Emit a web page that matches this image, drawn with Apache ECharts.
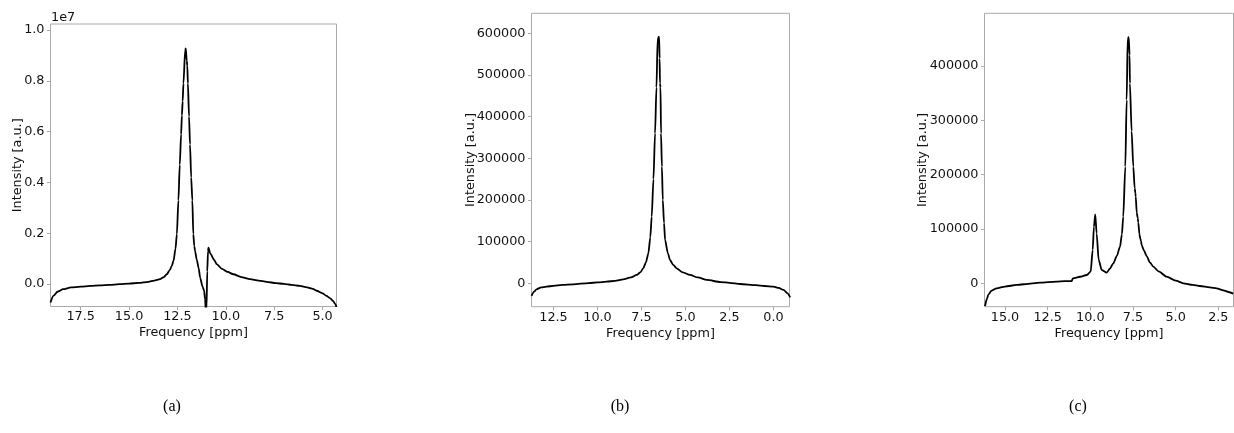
<!DOCTYPE html>
<html>
<head>
<meta charset="utf-8">
<script src="https://cdn.jsdelivr.net/npm/echarts@6/dist/echarts.min.js"></script>
<style>
html,body{margin:0;padding:0;background:#fff;}
#chart{width:1234px;height:433px;}
</style>
</head>
<body>
<div id="chart"></div>
<script>
// ---------- Data ----------
// Panel (a): intensity in units of 1e7
const ppmA = [19.06,18.9,18.7,18.4,18.0,17.5,17.0,16.5,16.0,15.5,15.0,14.5,14.0,13.7,13.4,13.2,13.05,12.9,12.8,12.7,12.6,12.53,12.45,12.38,12.31,12.27,12.23,12.19,12.1,12.07,12.02,11.99,11.96,11.9,11.85,11.79,11.73,11.68,11.63,11.59,11.5,11.4,11.33,11.2,11.12,11.07,11.04,11.0,10.96,10.92,10.9,10.8,10.6,10.47,10.2,9.9,9.61,9.2,8.75,8.3,7.89,7.4,7.0,6.6,6.17,5.8,5.5,5.31,5.0,4.8,4.6,4.46,4.35,4.28];
const intA = [-0.072,-0.045,-0.030,-0.020,-0.013,-0.010,-0.007,-0.005,-0.003,0.000,0.002,0.005,0.009,0.014,0.020,0.028,0.039,0.055,0.070,0.092,0.14,0.197,0.33,0.47,0.59,0.664,0.72,0.79,0.921,0.928,0.88,0.86,0.79,0.66,0.55,0.42,0.33,0.197,0.15,0.131,0.095,0.062,0.026,-0.01,-0.026,-0.06,-0.10,-0.10,0.05,0.13,0.144,0.12,0.095,0.079,0.06,0.048,0.039,0.028,0.020,0.014,0.009,0.004,0.001,-0.003,-0.007,-0.013,-0.019,-0.026,-0.036,-0.046,-0.056,-0.066,-0.078,-0.09];

// Panel (b)
const ppmB = [13.75,13.6,13.47,13.2,12.9,12.5,12.0,11.38,10.5,10.0,9.48,9.0,8.54,8.1,7.77,7.55,7.40,7.25,7.11,7.0,6.92,6.82,6.73,6.65,6.58,6.50,6.47,6.45,6.42,6.39,6.34,6.29,6.22,6.16,6.0,5.88,5.7,5.5,5.2,4.74,4.3,3.79,3.0,2.5,1.89,1.0,0.5,0.0,-0.3,-0.57,-0.8,-0.95];
const intB = [-30000,-20000,-14400,-10000,-8200,-6000,-4000,-2400,500,2000,3800,6000,9600,14000,20000,27000,36000,50000,72000,110000,160000,250000,360000,470000,588000,592000,540000,480000,470000,360000,280000,200000,145000,104000,72000,56000,44000,36000,27000,20000,14000,8000,3000,1000,-1700,-4500,-6500,-8200,-11000,-16000,-24000,-34000];

// Panel (c)
const ppmC = [16.17,16.05,15.98,15.8,15.49,15.0,14.31,13.5,12.95,12.0,11.5,11.09,11.02,10.6,10.21,9.98,9.86,9.79,9.71,9.63,9.51,9.33,9.04,8.85,8.65,8.45,8.26,8.15,8.07,7.95,7.87,7.81,7.75,7.70,7.68,7.58,7.48,7.40,7.36,7.34,7.28,7.22,7.19,7.12,7.07,7.03,6.99,6.85,6.70,6.50,6.31,6.0,5.53,5.0,4.55,4.0,3.58,3.0,2.60,2.2,1.9,1.62];
const intC = [-42000,-28000,-21500,-14000,-9200,-6000,-3100,-500,1100,3000,3800,4200,9200,12000,15300,21400,61300,104000,127000,92000,43000,24500,19500,27000,36800,50000,67400,90000,122600,214700,337600,451000,453000,420000,368000,280000,214700,175000,166000,160000,130000,120000,112000,90000,82000,78000,70000,60000,50000,38000,30600,22000,12200,5000,0,-3000,-5000,-7500,-9200,-13000,-16000,-19000];

// Tick labels
const xTicksA = [17.5,15.0,12.5,10.0,7.5,5.0];
const yTicksA = [0.0,0.2,0.4,0.6,0.8,1.0];
const xTicksB = [12.5,10.0,7.5,5.0,2.5,0.0];
const yTicksB = [0,100000,200000,300000,400000,500000,600000];
const xTicksC = [15.0,12.5,10.0,7.5,5.0,2.5];
const yTicksC = [0,100000,200000,300000,400000];
const captions = ['(a)','(b)','(c)'];
const xName = 'Frequency [ppm]';
const yName = 'Intensity [a.u.]';

// ---------- Build ----------
const FONT = 'DejaVu Sans';
const FS = 12.8;
const TXT = '#111';
const GRAY = '#aaaaaa';
function pairs(x, y){ return x.map((v,i)=>[v, y[i]]); }

const grids = [
  {left:50.5, top:24, width:286, height:282.5},
  {left:531.5, top:13.3, width:258, height:293.4},
  {left:984.5, top:13.3, width:249, height:293.4}
];
const xRanges = [[4.28,19.06],[-0.91,13.75],[1.61,16.2]];
const yRanges = [[-0.088,1.024],[-56200,648000],[-43100,497000]];
const xTicks = [xTicksA, xTicksB, xTicksC];
const yTicks = [yTicksA, yTicksB, yTicksC];
const yGaps = [26, 54, 55];
const yFmt = [v => v.toFixed(1), v => String(Math.round(v)), v => String(Math.round(v))];
const data = [pairs(ppmA,intA), pairs(ppmB,intB), pairs(ppmC,intC)];

const option = {
  backgroundColor:'#fff',
  animation:false,
  grid: grids.map(g => Object.assign({show:true, borderColor:GRAY, borderWidth:1, backgroundColor:'transparent'}, g)),
  xAxis: grids.map((g,i) => ({
    type:'value', gridIndex:i, inverse:true, position:'bottom',
    min:xRanges[i][0], max:xRanges[i][1],
    name:xName, nameLocation:'middle', nameGap:20, nameMoveOverlap:false,
    nameTextStyle:{fontFamily:FONT, fontSize:FS, color:TXT},
    axisLine:{show:false, onZero:false},
    splitLine:{show:false},
    axisTick:{show:true, inside:false, length:3.5, lineStyle:{color:GRAY}, customValues:xTicks[i]},
    axisLabel:{fontFamily:FONT, fontSize:FS, color:TXT, margin:4, customValues:xTicks[i], formatter:v=>v.toFixed(1)}
  })),
  yAxis: grids.map((g,i) => ({
    type:'value', gridIndex:i, position:'left',
    min:yRanges[i][0], max:yRanges[i][1],
    name:yName, nameLocation:'middle', nameGap:yGaps[i], nameRotate:90, nameMoveOverlap:false,
    nameTextStyle:{fontFamily:FONT, fontSize:FS, color:TXT},
    axisLine:{show:false, onZero:false},
    splitLine:{show:false},
    axisTick:{show:true, inside:false, length:3.5, lineStyle:{color:GRAY}, customValues:yTicks[i]},
    axisLabel:{fontFamily:FONT, fontSize:FS, color:TXT, margin:6, customValues:yTicks[i], formatter:yFmt[i]}
  })),
  series: data.map((d,i) => ({
    type:'line', xAxisIndex:i, yAxisIndex:i, data:d,
    showSymbol:false, symbol:'none', clip:true,
    smooth:0.25, smoothMonotone:'x',
    lineStyle:{color:'#000', width:1.8}
  })),
  graphic: [
    {type:'text', left:51, top:11, style:{text:'1e7', font:FS + 'px "DejaVu Sans"', fill:TXT}},
    {type:'text', x:172, y:407, style:{text:captions[0], font:'16px "Liberation Serif"', fill:'#000', align:'center', verticalAlign:'middle'}},
    {type:'text', x:620, y:407, style:{text:captions[1], font:'16px "Liberation Serif"', fill:'#000', align:'center', verticalAlign:'middle'}},
    {type:'text', x:1078, y:407, style:{text:captions[2], font:'16px "Liberation Serif"', fill:'#000', align:'center', verticalAlign:'middle'}}
  ]
};
const chart = echarts.init(document.getElementById('chart'), null, {renderer:'canvas'});
chart.setOption(option);
</script>
</body>
</html>
